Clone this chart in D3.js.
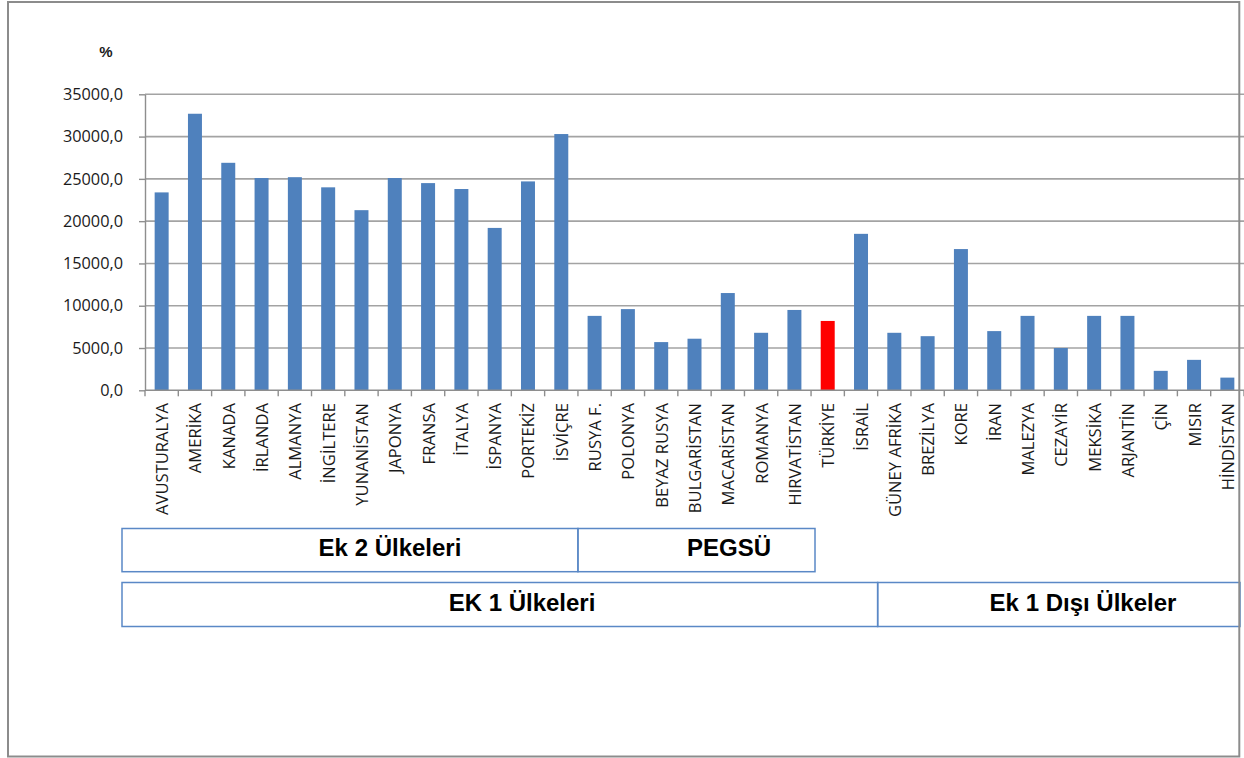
<!DOCTYPE html>
<html lang="tr">
<head>
<meta charset="utf-8">
<title>Ülkelere göre değerler</title>
<script src="https://cdn.jsdelivr.net/npm/d3@7"></script>
<style>
  html, body { margin: 0; padding: 0; background: #ffffff; }
  svg { display: block; }
</style>
</head>
<body>
<svg id="chart" width="1244" height="758"></svg>
<script>
// Countries in the order they are plotted
const countries = [
  "AVUSTURALYA", "AMERİKA", "KANADA", "İRLANDA", "ALMANYA", "İNGİLTERE",
  "YUNANİSTAN", "JAPONYA", "FRANSA", "İTALYA", "İSPANYA", "PORTEKİZ",
  "İSVİÇRE", "RUSYA F.", "POLONYA", "BEYAZ RUSYA", "BULGARİSTAN",
  "MACARİSTAN", "ROMANYA", "HIRVATİSTAN", "TÜRKİYE", "İSRAİL",
  "GÜNEY AFRİKA", "BREZİLYA", "KORE", "İRAN", "MALEZYA", "CEZAYİR",
  "MEKSİKA", "ARJANTİN", "ÇİN", "MISIR", "HİNDİSTAN"
];

// Value per country (%)
const values = [
  23400, 32700, 26900, 25100, 25200, 24000,
  21300, 25100, 24500, 23800, 19200, 24700,
  30300, 8800, 9600, 5700, 6100,
  11500, 6800, 9500, 8200, 18500,
  6800, 6400, 16700, 7000, 8800, 5000,
  8800, 8800, 2300, 3600, 1500
];

// Highlighted country
const highlight = ["TÜRKİYE"];

// Y axis ticks
const yTicks = [0, 5000, 10000, 15000, 20000, 25000, 30000, 35000];

// Country groups shown in the boxes under the axis
const groupRow1 = ["Ek 2 Ülkeleri", "PEGSÜ"];
const groupRow2 = ["EK 1 Ülkeleri", "Ek 1 Dışı Ülkeler"];

const svg = d3.select("#chart");
const W = 1244, H = 758;

svg.append("rect").attr("width", W).attr("height", H).attr("fill", "#ffffff");

const plot = { left: 145, right: 1244, top: 94.3, bottom: 390.3 };

const x = d3.scaleBand().domain(countries).range([plot.left, plot.right]).padding(0);
const y = d3.scaleLinear().domain([0, 35000]).range([plot.bottom, plot.top]);

const trLocale = d3.formatLocale({ decimal: ",", thousands: ".", grouping: [3], currency: ["", ""] });
const fmt = trLocale.format(".1f");

const gridColor = "#a3a3a3";
const labelFont = "'Open Sans', 'DejaVu Sans', sans-serif";

// Horizontal gridlines
svg.append("g")
  .selectAll("line")
  .data(yTicks.filter(d => d > 0))
  .join("line")
  .attr("x1", plot.left).attr("x2", plot.right)
  .attr("y1", d => y(d)).attr("y2", d => y(d))
  .attr("stroke", gridColor).attr("stroke-width", 1.6);

// Y axis
const yAxis = d3.axisLeft(y).tickValues(yTicks).tickFormat(fmt).tickSizeInner(6).tickSizeOuter(0).tickPadding(16);
const gy = svg.append("g").attr("transform", `translate(${plot.left},0)`).call(yAxis);
gy.select(".domain").attr("stroke", "#8e8e8e").attr("stroke-width", 1.4);
gy.selectAll(".tick line").attr("stroke", "#8e8e8e").attr("stroke-width", 1.4);
gy.selectAll(".tick text")
  .attr("font-family", labelFont).attr("font-size", 16.3).attr("fill", "#1a1a1a");

// Bars
const barW = x.bandwidth() * 0.42;
svg.append("g")
  .selectAll("rect")
  .data(countries.map((c, i) => ({ c, v: values[i] })))
  .join("rect")
  .attr("x", d => x(d.c) + (x.bandwidth() - barW) / 2)
  .attr("y", d => y(d.v))
  .attr("width", barW)
  .attr("height", d => y(0) - y(d.v))
  .attr("fill", d => highlight.includes(d.c) ? "#ff0000" : "#4f81bd");

// X axis line and category boundary ticks
const boundaries = countries.map(c => x(c)).concat([x(countries[countries.length - 1]) + x.step()]);
svg.append("line")
  .attr("x1", plot.left).attr("x2", plot.right)
  .attr("y1", y(0)).attr("y2", y(0))
  .attr("stroke", "#8e8e8e").attr("stroke-width", 1.4);
svg.append("g")
  .selectAll("line")
  .data(boundaries)
  .join("line")
  .attr("x1", d => d).attr("x2", d => d)
  .attr("y1", y(0)).attr("y2", y(0) + 6)
  .attr("stroke", "#8e8e8e").attr("stroke-width", 1.4);

// Rotated category labels
svg.append("g")
  .selectAll("text")
  .data(countries)
  .join("text")
  .attr("transform", d => `translate(${x(d) + x.bandwidth() / 2},403) rotate(-90)`)
  .attr("text-anchor", "end")
  .attr("dominant-baseline", "central")
  .attr("font-family", labelFont)
  .attr("font-size", 16.6)
  .attr("fill", "#1a1a1a")
  .text(d => d);

// Unit label
svg.append("text")
  .attr("x", 106).attr("y", 57)
  .attr("text-anchor", "middle")
  .attr("font-family", "'Liberation Sans', Arial, sans-serif")
  .attr("font-weight", "bold")
  .attr("font-size", 15)
  .attr("fill", "#1a1a1a")
  .text("%");

// Group boxes
const boxStroke = "#5a88c6";
const boxFont = "'Liberation Sans', Arial, sans-serif";
const row1Boxes = [
  { label: groupRow1[0], x0: 122, x1: x("RUSYA F."), tx: 390 },
  { label: groupRow1[1], x0: x("RUSYA F."), x1: 815, tx: 729 }
];
const row2Boxes = [
  { label: groupRow2[0], x0: 122, x1: x("GÜNEY AFRİKA"), tx: 522 },
  { label: groupRow2[1], x0: x("GÜNEY AFRİKA"), x1: 1240, tx: 1083 }
];

function drawRow(boxes, top, bottom, baseline) {
  const g = svg.append("g");
  g.selectAll("rect")
    .data(boxes)
    .join("rect")
    .attr("x", d => d.x0).attr("y", top)
    .attr("width", d => d.x1 - d.x0).attr("height", bottom - top)
    .attr("fill", "none").attr("stroke", boxStroke).attr("stroke-width", 1.5);
  g.selectAll("text")
    .data(boxes)
    .join("text")
    .attr("x", d => d.tx).attr("y", baseline)
    .attr("text-anchor", "middle")
    .attr("font-family", boxFont)
    .attr("font-weight", "bold")
    .attr("font-size", 24)
    .attr("fill", "#000000")
    .text(d => d.label);
}
drawRow(row1Boxes, 528.5, 571.7, 556);
drawRow(row2Boxes, 582.5, 626.5, 610.5);

// Outer frame
svg.append("rect")
  .attr("x", 8).attr("y", 2)
  .attr("width", 1239.3 - 8).attr("height", 756.5 - 2)
  .attr("fill", "none").attr("stroke", "#8c8c8c").attr("stroke-width", 2);
</script>
</body>
</html>
